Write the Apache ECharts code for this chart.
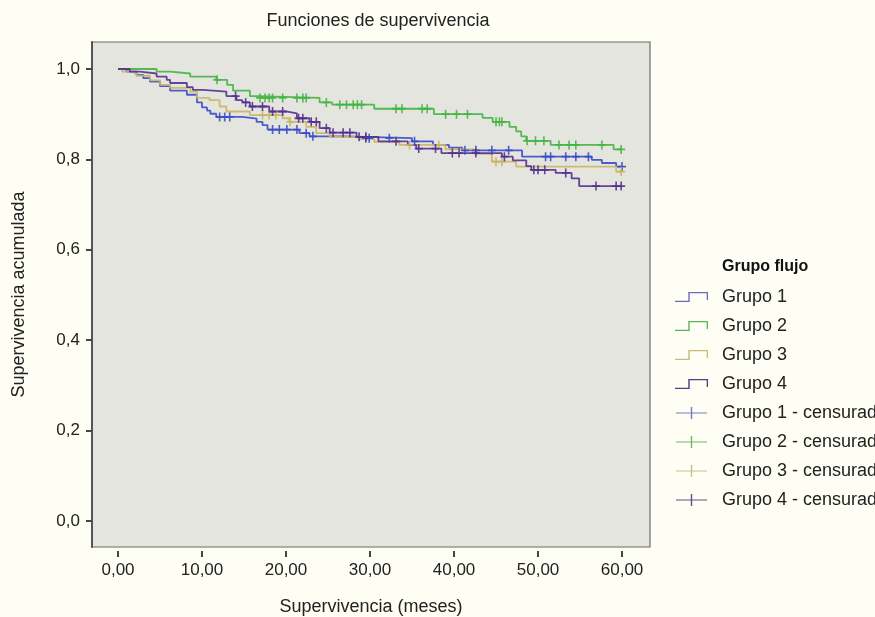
<!DOCTYPE html>
<html>
<head>
<meta charset="utf-8">
<script src="https://cdn.jsdelivr.net/npm/echarts@6/dist/echarts.min.js"></script>
<style>
html,body{margin:0;padding:0;background:#fefef4;}
#c{width:875px;height:617px;}
</style>
</head>
<body>
<div id="c"></div>
<script>
// ---- data ----
const xTicks = [0, 10, 20, 30, 40, 50, 60];
const yTicks = [0, 0.2, 0.4, 0.6, 0.8, 1.0];
const groupNames = ['Grupo 1', 'Grupo 2', 'Grupo 3', 'Grupo 4'];
const censNames = ['Grupo 1 - censurado', 'Grupo 2 - censurado', 'Grupo 3 - censurado', 'Grupo 4 - censurado'];

// Group 1 (blue)
const g1Time = [0, 1.0, 2.2, 3.0, 3.8, 5.0, 6.2, 8.2, 9.4, 10.0, 10.6, 11.0, 11.7, 14.8, 16.5, 17.2, 17.8, 21.6, 22.8, 27.0, 35.0, 37.5, 39.4, 41.0, 48.1, 56.4, 57.6, 59.3, 60.0];
const g1Surv = [1.0, 0.994, 0.987, 0.980, 0.972, 0.962, 0.952, 0.943, 0.926, 0.915, 0.908, 0.901, 0.894, 0.890, 0.883, 0.876, 0.866, 0.858, 0.851, 0.847, 0.840, 0.832, 0.826, 0.820, 0.806, 0.799, 0.792, 0.784, 0.784];
const g1Cens = [12.1, 12.7, 13.3, 18.4, 19.2, 20.1, 21.3, 22.4, 23.2, 29.5, 29.9, 32.3, 35.3, 41.3, 42.6, 44.5, 46.5, 50.9, 51.5, 53.3, 54.5, 56.0, 60.0];

// Group 2 (green)
const g2Time = [0, 4.6, 6.2, 8.6, 11.7, 13.0, 13.7, 15.7, 16.5, 24.0, 25.5, 30.5, 37.6, 43.4, 44.6, 46.6, 47.4, 48.0, 48.6, 51.5, 59.0, 60.0];
const g2Surv = [1.0, 0.994, 0.990, 0.983, 0.976, 0.965, 0.952, 0.940, 0.936, 0.926, 0.921, 0.912, 0.900, 0.892, 0.883, 0.872, 0.862, 0.851, 0.841, 0.832, 0.822, 0.822];
const g2Cens = [11.8, 16.9, 17.5, 18.0, 18.4, 19.6, 21.3, 22.0, 22.4, 24.8, 26.4, 27.2, 28.0, 28.5, 29.0, 33.1, 33.8, 36.2, 36.8, 39.0, 40.3, 41.6, 45.0, 45.4, 45.7, 48.7, 49.7, 50.7, 52.5, 53.7, 54.5, 57.6, 59.9];

// Group 3 (tan)
const g3Time = [0, 0.5, 1.5, 2.2, 3.8, 5.0, 6.2, 8.6, 9.4, 10.9, 12.1, 12.9, 15.7, 19.6, 20.4, 22.4, 23.6, 25.2, 28.7, 30.5, 33.5, 39.0, 42.5, 44.5, 47.4, 59.3, 60.0];
const g3Surv = [1.0, 0.994, 0.990, 0.985, 0.975, 0.965, 0.958, 0.950, 0.936, 0.931, 0.917, 0.906, 0.898, 0.891, 0.883, 0.872, 0.858, 0.850, 0.845, 0.839, 0.832, 0.822, 0.812, 0.795, 0.784, 0.773, 0.773];
const g3Cens = [17.2, 18.0, 18.8, 20.5, 34.7, 38.2, 45.0, 45.7, 59.9];

// Group 4 (purple)
const g4Time = [0, 1.4, 2.6, 4.6, 5.8, 6.2, 8.2, 8.9, 10.1, 12.9, 14.1, 14.8, 15.7, 18.0, 20.0, 21.3, 22.8, 24.0, 25.2, 28.4, 31.0, 34.5, 35.5, 38.5, 45.7, 47.0, 48.6, 49.2, 52.1, 54.0, 54.9, 60.0];
const g4Surv = [1.0, 0.994, 0.990, 0.983, 0.976, 0.969, 0.960, 0.954, 0.950, 0.940, 0.931, 0.926, 0.917, 0.906, 0.902, 0.891, 0.883, 0.869, 0.859, 0.850, 0.840, 0.832, 0.824, 0.814, 0.806, 0.798, 0.785, 0.777, 0.770, 0.758, 0.741, 0.741];
const g4Cens = [14.0, 15.2, 16.0, 17.2, 18.4, 19.6, 21.5, 22.0, 23.0, 23.6, 24.8, 25.6, 26.8, 27.6, 28.7, 29.5, 33.1, 35.8, 37.8, 39.8, 40.6, 42.6, 46.0, 49.5, 50.0, 50.8, 53.3, 56.9, 59.3, 59.9];

const colors = ['#3a4cc6', '#44b444', '#c9b565', '#54318f'];
const legendColors = ['#6a6cc0', '#5cb45c', '#c8b878', '#4e3c84'];

// ---- build ----
function stepAt(times, surv, t) {
  let v = surv[0];
  for (let i = 0; i < times.length; i++) { if (times[i] <= t) v = surv[i]; }
  return v;
}
const allTimes = [g1Time, g2Time, g3Time, g4Time];
const allSurv = [g1Surv, g2Surv, g3Surv, g4Surv];
const allCens = [g1Cens, g2Cens, g3Cens, g4Cens];

const plusSym = 'path://M0,4 L4,4 L4,0 L6,0 L6,4 L10,4 L10,6 L6,6 L6,10 L4,10 L4,6 L0,6 Z';
const stepIcon = 'path://M0,8.7 L13.3,8.7 L13.3,0 L33,0 L33,8 L31.7,8 L31.7,1.3 L14.7,1.3 L14.7,10 L0,10 Z';
const plusIcon = 'path://M0,5.4 L14.8,5.4 L14.8,0 L16.2,0 L16.2,5.4 L31,5.4 L31,6.6 L16.2,6.6 L16.2,12 L14.8,12 L14.8,6.6 L0,6.6 Z';

const series = [];
const legendData = [];
for (let g = 0; g < 4; g++) {
  series.push({
    name: groupNames[g], type: 'line', step: 'end', showSymbol: false, symbol: 'none',
    data: allTimes[g].map((t, i) => [t, allSurv[g][i]]),
    lineStyle: { color: colors[g], width: 1.8, opacity: 0.9 },
    itemStyle: { color: colors[g] },
    z: g === 3 ? 4 : 3, silent: true, animation: false
  });
  legendData.push({ name: groupNames[g], icon: stepIcon, itemStyle: { color: legendColors[g] } });
}
for (let g = 0; g < 4; g++) {
  series.push({
    name: censNames[g], type: 'scatter', symbol: plusSym, symbolSize: [8, 9],
    data: allCens[g].map(t => [t, stepAt(allTimes[g], allSurv[g], t)]),
    itemStyle: { color: colors[g], opacity: 0.9 },
    z: 5, silent: true, animation: false
  });
  legendData.push({ name: censNames[g], icon: plusIcon, itemStyle: { color: legendColors[g] } });
}

const FONT = "'Liberation Sans', Arial, Helvetica, sans-serif";
const chart = echarts.init(document.getElementById('c'));
chart.setOption({
  backgroundColor: '#fefef4',
  animation: false,
  textStyle: { fontFamily: FONT, color: '#222' },
  title: [
    { text: 'Funciones de supervivencia', left: 373, top: 7, textAlign: 'center',
      textStyle: { fontFamily: FONT, fontSize: 18, fontWeight: 'normal', color: '#222' } },
    { text: 'Grupo flujo', left: 717, top: 254,
      textStyle: { fontFamily: FONT, fontSize: 16, fontWeight: 'bold', color: '#111' } }
  ],
  grid: { left: 92, top: 42, width: 558, height: 505, show: true, outerBoundsMode: 'none',
    backgroundColor: '#e5e5df', borderColor: '#6a6a6a', borderWidth: 1.2, containLabel: false },
  legend: {
    orient: 'vertical', left: 670, top: 283, itemWidth: 33, itemHeight: 12, itemGap: 11,
    data: legendData, selectedMode: false,
    textStyle: { fontFamily: FONT, fontSize: 18, color: '#222', padding: [0, 0, 0, 9], lineHeight: 18 }
  },
  xAxis: {
    type: 'value', min: -3.095, max: 63.33, offset: 4,
    name: 'Supervivencia (meses)', nameLocation: 'middle', nameGap: 47,
    nameTextStyle: { fontFamily: FONT, fontSize: 18, color: '#222' },
    axisLine: { show: false, onZero: false },
    axisTick: { show: true, length: 6, customValues: xTicks, lineStyle: { color: '#444', width: 2 } },
    axisLabel: { customValues: xTicks, margin: 11, fontFamily: FONT, fontSize: 17, color: '#222',
      formatter: v => v.toFixed(2).replace('.', ',') },
    splitLine: { show: false }
  },
  yAxis: {
    type: 'value', min: -0.0575, max: 1.0597,
    name: 'Supervivencia acumulada', nameLocation: 'middle', nameGap: 64, nameRotate: 90,
    nameTextStyle: { fontFamily: FONT, fontSize: 18, color: '#222' },
    axisLine: { show: true, onZero: false, lineStyle: { color: '#555', width: 2 } },
    axisTick: { show: true, length: 6, customValues: yTicks, lineStyle: { color: '#444', width: 2 } },
    axisLabel: { customValues: yTicks, margin: 12, fontFamily: FONT, fontSize: 17, color: '#222',
      formatter: v => v.toFixed(1).replace('.', ',') },
    splitLine: { show: false }
  },
  series: series
});
</script>
</body>
</html>
